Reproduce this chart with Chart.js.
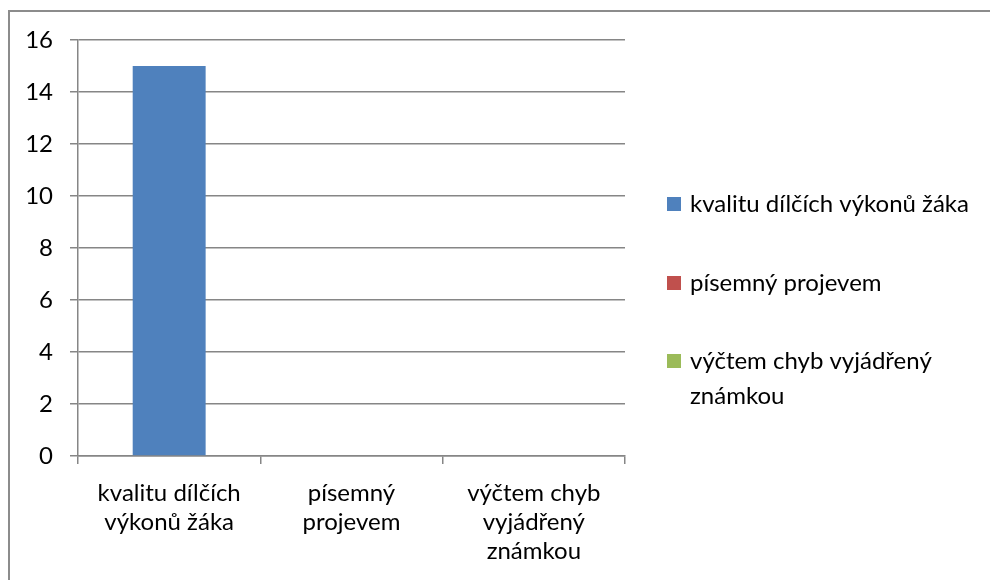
<!DOCTYPE html>
<html>
<head>
<meta charset="utf-8">
<script src="https://cdn.jsdelivr.net/npm/chart.js@4"></script>
<style>
  html, body { margin: 0; padding: 0; background: #fff; }
  #wrap { position: absolute; left: 0; top: 0; width: 990px; height: 580px; }
</style>
</head>
<body>
<div id="wrap"><canvas id="graf" width="990" height="580"></canvas></div>
<script>
// data
const kategorie = ['kvalitu dílčích výkonů žáka', 'písemný projevem', 'výčtem chyb vyjádřený známkou'];
const popiskyOsyX = [['kvalitu dílčích', 'výkonů žáka'], ['písemný', 'projevem'], ['výčtem chyb', 'vyjádřený', 'známkou']];
const hodnoty = [15, 0, 0];
const barvy = ['#4F81BD', '#C0504D', '#9BBB59'];
const osaYMax = 16;
const osaYKrok = 2;

const pismo = 'Lato, "Open Sans", sans-serif';
const velikost = 24;
const seda = '#868686';

// ramecek kolem grafu (jen levy a horni okraj je videt)
const ramecek = {
  id: 'ramecek',
  beforeDraw(chart) {
    const ctx = chart.ctx;
    ctx.save();
    ctx.strokeStyle = '#8c8c8c';
    ctx.lineWidth = 2;
    ctx.beginPath();
    ctx.moveTo(9, 600);
    ctx.lineTo(9, 11);
    ctx.lineTo(1000, 11);
    ctx.stroke();
    ctx.restore();
  }
};

// legenda vpravo, s zalamovanim textu
const legenda = {
  id: 'legenda',
  afterDraw(chart) {
    const ctx = chart.ctx;
    ctx.save();
    ctx.font = velikost + 'px ' + pismo;
    ctx.textBaseline = 'middle';
    const x = 667, maxSirka = 292;
    const startY = [204, 283, 361];
    kategorie.forEach((text, i) => {
      // zalomeni
      const slova = text.split(' ');
      const radky = [];
      let radek = '';
      slova.forEach(s => {
        const zkus = radek ? radek + ' ' + s : s;
        if (ctx.measureText(zkus).width > maxSirka && radek) {
          radky.push(radek);
          radek = s;
        } else {
          radek = zkus;
        }
      });
      radky.push(radek);
      const y = startY[i];
      ctx.fillStyle = barvy[i];
      ctx.fillRect(x, y - 7, 14, 14);
      ctx.fillStyle = '#000';
      radky.forEach((r, j) => ctx.fillText(r, x + 23, y + j * 35));
    });
    ctx.restore();
  }
};

const ctx = document.getElementById('graf').getContext('2d');
new Chart(ctx, {
  type: 'bar',
  data: {
    labels: popiskyOsyX,
    datasets: [{
      data: hodnoty,
      backgroundColor: barvy,
      borderWidth: 0,
      barPercentage: 0.4,
      categoryPercentage: 1
    }]
  },
  options: {
    responsive: false,
    animation: false,
    layout: { padding: { left: 0, top: 40, right: 365, bottom: 0 } },
    plugins: {
      legend: { display: false },
      tooltip: { enabled: false }
    },
    scales: {
      x: {
        offset: true,
        afterFit: (s) => { s.height = 124; },
        grid: {
          offset: true,
          drawOnChartArea: false,
          drawTicks: true,
          tickLength: 8,
          color: seda,
          lineWidth: 1.5
        },
        border: { display: true, color: seda, width: 1.5 },
        ticks: {
          color: '#000',
          font: { family: pismo, size: velikost, lineHeight: 1.2 },
          padding: 15,
          maxRotation: 0,
          autoSkip: false
        }
      },
      y: {
        min: 0,
        max: osaYMax,
        afterFit: (s) => { s.width = 78; },
        grid: {
          color: seda,
          lineWidth: 1.5,
          tickLength: 8
        },
        border: { display: true, color: seda, width: 1.5 },
        ticks: {
          stepSize: osaYKrok,
          color: '#000',
          font: { family: pismo, size: velikost },
          padding: 17
        }
      }
    }
  },
  plugins: [ramecek, legenda]
});
</script>
</body>
</html>
